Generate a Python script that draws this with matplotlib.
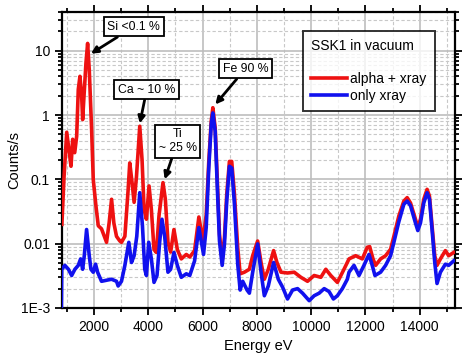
import matplotlib
matplotlib.use("Agg")
import matplotlib.pyplot as plt
from matplotlib.ticker import MultipleLocator, LogLocator, FixedLocator, FixedFormatter, NullFormatter

plt.rcParams['font.family'] = ['Liberation Sans', 'DejaVu Sans']

# alpha + xray spectrum (energy eV, counts/s)
red_energy = [820, 900, 998, 1094, 1156, 1218, 1292, 1365, 1424, 1486, 1549, 1585, 1634, 1706,
              1768, 1828, 1915, 1975, 2073, 2160, 2280, 2465, 2560, 2650, 2734, 2832, 2955, 3015,
              3140, 3260, 3320, 3405, 3480, 3567, 3688, 3773, 3847, 3933, 4030, 4116, 4213, 4300,
              4396, 4543, 4631, 4727, 4826, 4947, 5072, 5218, 5402, 5530, 5707, 5865, 6013, 6135,
              6230, 6320, 6380, 6466, 6540, 6624, 6723, 6808, 6892, 6990, 7075, 7175, 7296, 7385,
              7540, 7725, 7847, 8030, 8155, 8276, 8422, 8617, 8740, 8889, 9130, 9377, 9622, 9867,
              10110, 10357, 10540, 10723, 10966, 11210, 11395, 11640, 11885, 12067, 12156, 12278,
              12375, 12558, 12742, 12925, 13047, 13230, 13414, 13536, 13659, 13842, 13928, 14026,
              14148, 14270, 14357, 14453, 14552, 14636, 14761, 14944, 15065, 15250]
red_counts = [0.02, 0.11, 0.54, 0.26, 0.16, 0.42, 0.26, 0.47, 2.5, 4.0, 1.95, 0.85, 1.95, 6.4,
              13.0, 5.1, 0.6, 0.1, 0.039, 0.019, 0.017, 0.0105, 0.021, 0.049, 0.021, 0.013, 0.011, 0.0105,
              0.013, 0.069, 0.18, 0.089, 0.044, 0.11, 0.67, 0.2, 0.034, 0.024, 0.079, 0.034, 0.0081, 0.0073,
              0.027, 0.089, 0.049, 0.0105, 0.0074, 0.0166, 0.0081, 0.0058, 0.0068, 0.0062, 0.0078, 0.026, 0.011, 0.028,
              0.19, 0.8, 1.3, 0.63, 0.107, 0.014, 0.0055, 0.0125, 0.059, 0.19, 0.19, 0.059, 0.0087, 0.0034,
              0.0036, 0.004, 0.0065, 0.011, 0.0051, 0.0028, 0.004, 0.0078, 0.0051, 0.0036, 0.0035, 0.0036, 0.003, 0.0026,
              0.0032, 0.003, 0.004, 0.0032, 0.0025, 0.004, 0.0058, 0.0065, 0.0058, 0.0088, 0.009, 0.0058,
              0.0046, 0.0058, 0.0065, 0.0082, 0.013, 0.027, 0.046, 0.052, 0.043, 0.024, 0.018, 0.024,
              0.049, 0.07, 0.055, 0.019, 0.0065, 0.0046, 0.0058, 0.0078, 0.0065, 0.0073]

# only xray spectrum
blue_energy = [800, 815, 930, 1060, 1180, 1300, 1424, 1510, 1585, 1645, 1730, 1828, 1890, 1975,
               2060, 2135, 2280, 2465, 2650, 2832, 2892, 3015, 3140, 3285, 3384, 3480, 3578, 3688,
               3787, 3872, 3933, 4018, 4116, 4213, 4323, 4420, 4506, 4606, 4727, 4826, 4947, 5072,
               5218, 5402, 5530, 5707, 5865, 6037, 6135, 6230, 6320, 6380, 6466, 6540, 6624, 6723,
               6808, 6892, 6990, 7075, 7175, 7296, 7385, 7480, 7640, 7725, 7847, 8030, 8155, 8276,
               8422, 8617, 8790, 8950, 9130, 9315, 9500, 9683, 9928, 10110, 10295, 10480, 10660,
               10820, 10966, 11150, 11333, 11395, 11578, 11762, 11945, 12130, 12250, 12350, 12558,
               12742, 12925, 13047, 13230, 13414, 13536, 13659, 13842, 13928, 14026, 14148, 14270,
               14357, 14453, 14552, 14636, 14761, 14944, 15065, 15250]
blue_counts = [0.0008, 0.004, 0.0046, 0.004, 0.0032, 0.004, 0.0046, 0.0058, 0.004, 0.0065, 0.0166, 0.0065, 0.004, 0.0036,
               0.0048, 0.0036, 0.0026, 0.0027, 0.0028, 0.0026, 0.0022, 0.0026, 0.0046, 0.0105, 0.0051, 0.0065, 0.013, 0.062,
               0.019, 0.004, 0.0032, 0.0105, 0.0058, 0.0025, 0.0032, 0.0105, 0.024, 0.013, 0.0036, 0.004, 0.0073, 0.0046,
               0.003, 0.0034, 0.0032, 0.0054, 0.0178, 0.0068, 0.0178, 0.15, 0.71, 1.08, 0.56, 0.083, 0.011, 0.0046,
               0.0099, 0.046, 0.16, 0.15, 0.041, 0.0048, 0.0019, 0.0026, 0.0019, 0.0017, 0.0036, 0.0099, 0.0036, 0.00155,
               0.0022, 0.0051, 0.0028, 0.0021, 0.00138, 0.0019, 0.002, 0.0017, 0.0013, 0.00155, 0.0017, 0.002, 0.0018,
               0.00138, 0.00155, 0.002, 0.0028, 0.0036, 0.0046, 0.0032, 0.0046, 0.0068, 0.0046, 0.0032, 0.0036,
               0.0046, 0.0065, 0.0105, 0.022, 0.041, 0.046, 0.039, 0.021, 0.016, 0.021, 0.043, 0.062,
               0.049, 0.0166, 0.0051, 0.0024, 0.0036, 0.0048, 0.0046, 0.0054]

ytick_vals = [1e-3, 1e-2, 1e-1, 1, 10]
ytick_labels = ["1E-3", "0.01", "0.1", "1", "10"]

# annotation text, label position, arrow tip
notes = [("Si <0.1 %", (3470, 23.6), (1890, 9.0)),
         ("Ca ~ 10 %", (3945, 2.48), (3690, 0.74)),
         ("Ti\n~ 25 %", (5083, 0.39), (4606, 0.1)),
         ("Fe 90 %", (7578, 5.25), (6470, 1.46))]

fig = plt.figure(figsize=(4.76, 3.54), dpi=100)
ax = fig.add_axes([0.130, 0.130, 0.826, 0.836])

ax.plot(red_energy, red_counts, color="#ee1111", lw=2.6, label="alpha + xray", zorder=3)
ax.plot(blue_energy, blue_counts, color="#1111ee", lw=2.6, label="only xray", zorder=4)

ax.set_yscale("log")
ax.set_xlim(820, 15300)
ax.set_ylim(1e-3, 40)

ax.xaxis.set_major_locator(MultipleLocator(2000))
ax.xaxis.set_minor_locator(MultipleLocator(1000))
ax.yaxis.set_major_locator(FixedLocator(ytick_vals))
ax.yaxis.set_major_formatter(FixedFormatter(ytick_labels))
ax.yaxis.set_minor_locator(LogLocator(base=10, subs=range(2, 10)))
ax.yaxis.set_minor_formatter(NullFormatter())

ax.grid(which="major", color="#bdbdbd", lw=1.2, ls="-", zorder=0)
ax.grid(which="minor", color="#c8c8c8", lw=0.8, ls=(0, (3, 2)), zorder=0)
ax.set_axisbelow(True)

ax.tick_params(which="both", direction="out", top=True, right=True, labelsize=10, width=1.3)
ax.tick_params(which="major", length=5)
ax.tick_params(which="minor", length=3)
for sp in ax.spines.values():
    sp.set_linewidth(1.6)

ax.set_xlabel("Energy eV", fontsize=10.5)
ax.set_ylabel("Counts/s", fontsize=10.5, labelpad=0)

for txt, xy_text, xy_tip in notes:
    ax.annotate(txt, xy=xy_tip, xytext=xy_text, ha="center", va="center", fontsize=8.8,
                bbox=dict(boxstyle="square,pad=0.3", fc="white", ec="black", lw=1.3),
                arrowprops=dict(arrowstyle="-|>", color="black", lw=2, mutation_scale=10,
                                shrinkA=0, shrinkB=0),
                zorder=6)

leg = ax.legend(title="SSK1 in vacuum\n", loc="upper left", bbox_to_anchor=(0.613, 0.936),
                borderaxespad=0, fontsize=10, title_fontsize=10, frameon=True, fancybox=False,
                edgecolor="black", handlelength=2.6, handletextpad=0.2, labelspacing=0.2,
                borderpad=0.6, alignment="left")
leg.get_frame().set_linewidth(1.4)
leg.set_zorder(7)

fig.savefig("out.png", dpi=100)
